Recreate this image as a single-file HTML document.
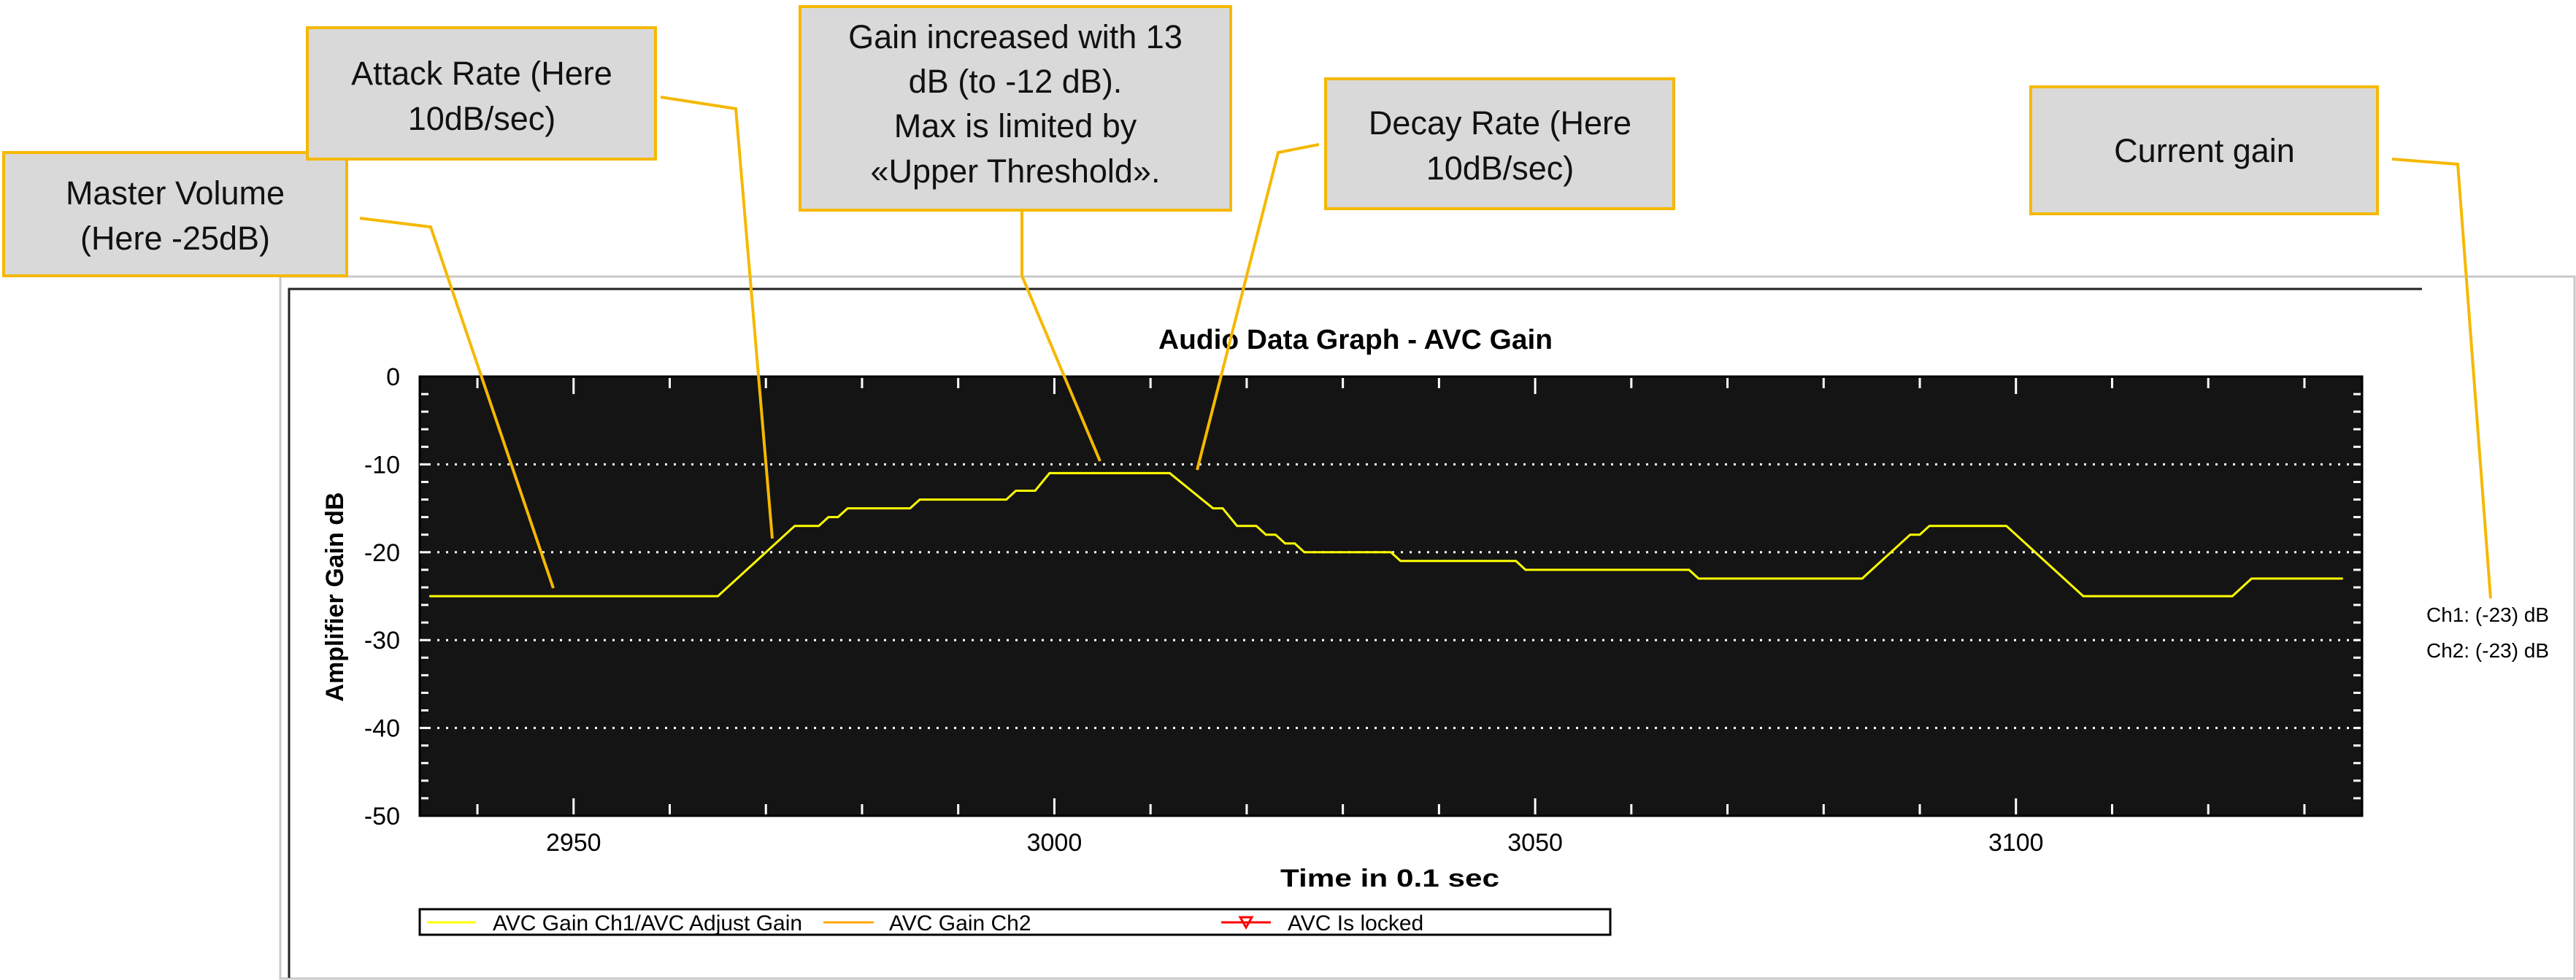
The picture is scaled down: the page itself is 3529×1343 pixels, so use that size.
<!DOCTYPE html>
<html><head><meta charset="utf-8"><style>
html,body{margin:0;padding:0;background:#fff;}
svg{display:block;font-family:"Liberation Sans",Arial,sans-serif;}
</style></head><body>
<svg id="chart" width="3529" height="1343" viewBox="0 0 3529 1343" xmlns="http://www.w3.org/2000/svg">
<rect x="384" y="379" width="3143" height="962" fill="#fff" stroke="#c8c8c8" stroke-width="3"/>
<path d="M396 1340 V396 H3318" fill="none" stroke="#222" stroke-width="3"/>
<text x="1857" y="478" text-anchor="middle" font-weight="bold" font-size="38" textLength="540" lengthAdjust="spacingAndGlyphs">Audio Data Graph - AVC Gain</text>
<rect x="575" y="516" width="2661" height="602" fill="#141414" stroke="#000" stroke-width="3"/>
<g id="grid"></g>
<g id="ticks"></g>
<g id="labels"></g>
<path id="series" fill="none" stroke="#ffff00" stroke-width="3"/>
<text x="1904" y="1215" text-anchor="middle" font-weight="bold" font-size="34" textLength="300" lengthAdjust="spacingAndGlyphs">Time in 0.1 sec</text>
<text transform="translate(470,818) rotate(-90)" text-anchor="middle" font-weight="bold" font-size="34">Amplifier Gain dB</text>
<g>
<rect x="575" y="1246" width="1631" height="35" fill="#fff" stroke="#000" stroke-width="3"/>
<line x1="585" y1="1264" x2="652" y2="1264" stroke="#ffff00" stroke-width="3"/>
<text x="675" y="1275" font-size="30">AVC Gain Ch1/AVC Adjust Gain</text>
<line x1="1128" y1="1264" x2="1197" y2="1264" stroke="#ffa500" stroke-width="3"/>
<text x="1218" y="1275" font-size="30">AVC Gain Ch2</text>
<line x1="1673" y1="1264" x2="1741" y2="1264" stroke="#ff0000" stroke-width="3"/>
<path d="M1699 1257 L1715 1257 L1707 1271 Z" fill="none" stroke="#ff0000" stroke-width="3"/>
<text x="1764" y="1275" font-size="30">AVC Is locked</text>
</g>
<text x="3324" y="852" font-size="28">Ch1: (-23) dB</text>
<text x="3324" y="901" font-size="28">Ch2: (-23) dB</text>
<g fill="none" stroke="#f5b800" stroke-width="4">
<polyline points="493,299 590,311 758,806"/>
<polyline points="905,133 1008,149 1058,738"/>
<polyline points="1400,288 1400,378 1507,632"/>
<polyline points="1807,198 1751,209 1640,644"/>
<polyline points="3277,218 3367,225 3412,820"/>
</g>
<g font-size="45" text-anchor="middle" fill="#111">
<rect x="5" y="209" width="470" height="169" fill="#d9d9d9" stroke="#f5b800" stroke-width="4"/>
<text x="240" y="280">Master Volume</text>
<text x="240" y="342">(Here -25dB)</text>
<rect x="421" y="38" width="477" height="180" fill="#d9d9d9" stroke="#f5b800" stroke-width="4"/>
<text x="660" y="116">Attack Rate (Here</text>
<text x="660" y="178">10dB/sec)</text>
<rect x="1096" y="9" width="590" height="279" fill="#d9d9d9" stroke="#f5b800" stroke-width="4"/>
<text x="1391" y="66">Gain increased with 13</text>
<text x="1391" y="127">dB (to -12 dB).</text>
<text x="1391" y="188">Max is limited by</text>
<text x="1391" y="250">«Upper Threshold».</text>
<rect x="1816" y="108" width="477" height="178" fill="#d9d9d9" stroke="#f5b800" stroke-width="4"/>
<text x="2055" y="184">Decay Rate (Here</text>
<text x="2055" y="246">10dB/sec)</text>
<rect x="2782" y="119" width="475" height="174" fill="#d9d9d9" stroke="#f5b800" stroke-width="4"/>
<text x="3020" y="222">Current gain</text>
</g>
</svg>
<script>
const times = [2935,2965,2973,2975.5,2976.5,2977.5,2978.5,2985,2986,2995,2996,2998,2999.5,3012,3016.5,3017.5,3019,3021,3022,3023,3024,3025,3026,3035,3036,3048,3049,3066,3067,3084,3089,3090,3091,3099,3107,3122.5,3124.5,3134];
const gains = [-25,-25,-17,-17,-16,-16,-15,-15,-14,-14,-13,-13,-11,-11,-15,-15,-17,-17,-18,-18,-19,-19,-20,-20,-21,-21,-22,-22,-23,-23,-18,-18,-17,-17,-25,-25,-23,-23];
const xTickLabels = [2950,3000,3050,3100];
const yTickLabels = [0,-10,-20,-30,-40,-50];
const X0=575,X1=3236,Y0=516,Y1=1118,XMIN=2934,XMAX=3136,YMIN=-50,YMAX=0;
const NS="http://www.w3.org/2000/svg";
function xs(v){return X0+(v-XMIN)/(XMAX-XMIN)*(X1-X0);}
function ys(v){return Y0+(YMAX-v)/(YMAX-YMIN)*(Y1-Y0);}
function mk(tag,attrs,parent){const e=document.createElementNS(NS,tag);for(const k in attrs)e.setAttribute(k,attrs[k]);parent.appendChild(e);return e;}
const grid=document.getElementById('grid'),ticks=document.getElementById('ticks'),labels=document.getElementById('labels');
yTickLabels.forEach(v=>{
  if(v>YMIN&&v<YMAX){const g=mk('line',{x1:X0,x2:X1,y1:ys(v),y2:ys(v),stroke:'#fff','stroke-width':3,'stroke-dasharray':'3 9'},grid);
  
  }
  const t=mk('text',{x:548,y:ys(v)+12,'text-anchor':'end','font-size':34},labels);t.textContent=v;
  
  
});
for(let v=YMIN+2;v<YMAX;v+=2){[[X0+2,X0+12],[X1-12,X1-2]].forEach(p=>{const l=mk('line',{x1:p[0],x2:p[1],y1:ys(v),y2:ys(v),stroke:'#fff','stroke-width':3},ticks);

});}
for(let v=2940;v<XMAX;v+=10){const major=v%50===0;const len=major?22:14;
[[Y0+2,Y0+2+len],[Y1-2-len,Y1-2]].forEach(p=>{const l=mk('line',{x1:xs(v),x2:xs(v),y1:p[0],y2:p[1],stroke:'#fff','stroke-width':3},ticks);

});}
xTickLabels.forEach(v=>{const t=mk('text',{x:xs(v),y:1166,'text-anchor':'middle','font-size':34},labels);t.textContent=v;

});
document.getElementById('series').setAttribute('d',times.map((t,i)=>(i?'L':'M')+xs(t).toFixed(1)+' '+ys(gains[i]).toFixed(1)).join(' '));
</script>
</body></html>
